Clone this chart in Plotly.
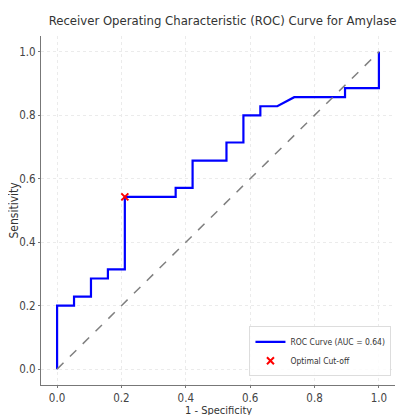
import plotly.graph_objects as go

fpr = [0, 0, 1/19, 1/19, 2/19, 2/19, 3/19, 3/19, 4/19, 4/19, 7/19, 7/19, 8/19, 8/19,
       10/19, 10/19, 11/19, 11/19, 12/19, 12/19, 13/19, 14/19, 17/19, 17/19, 1.0, 1.0]
tpr = [0, 7/35, 7/35, 8/35, 8/35, 10/35, 10/35, 11/35, 11/35, 19/35, 19/35, 20/35, 20/35, 23/35,
       23/35, 25/35, 25/35, 28/35, 28/35, 29/35, 29/35, 30/35, 30/35, 31/35, 31/35, 1.0]
diag_x = [0, 1]
diag_y = [0, 1]
cut_x = [4/19]
cut_y = [19/35]
auc = 0.64

FONT = "DejaVu Sans Condensed, Liberation Sans Narrow, Roboto Condensed, DejaVu Sans"

fig = go.Figure()
fig.add_trace(go.Scatter(x=fpr, y=tpr, mode="lines", line=dict(color="#0000ff", width=2.2),
                         name=f"ROC Curve (AUC = {auc:.2f})"))
fig.add_trace(go.Scatter(x=diag_x, y=diag_y, mode="lines", line=dict(color="#808080", width=1.5, dash="dash"),
                         showlegend=False))
fig.add_trace(go.Scatter(x=cut_x, y=cut_y, mode="markers",
                         marker=dict(symbol="x-thin", size=7, line=dict(color="#ff0000", width=2), color="#ff0000"),
                         name="Optimal Cut-off"))

axis_common = dict(showline=True, linecolor="#777777", linewidth=1.2, mirror=False,
                   ticks="outside", ticklen=2, tickcolor="#777777",
                   showgrid=True, gridcolor="#ebebeb", griddash="dot", gridwidth=1,
                   zeroline=False, tickfont=dict(size=11.5, color="#444444", family=FONT),
                   tickformat=".1f", dtick=0.2, automargin=False)

fig.update_layout(
    width=407, height=415,
    margin=dict(l=33, r=20, t=28, b=38),
    paper_bgcolor="white", plot_bgcolor="white",
    font=dict(family=FONT, color="#333333"),
    title=dict(text="Receiver Operating Characteristic (ROC) Curve for Amylase",
               xref="paper", x=0.513, xanchor="center", y=0.971, yanchor="middle",
               font=dict(size=13, color="#333333", family=FONT)),
    xaxis=dict(range=[-0.05, 1.05], **axis_common),
    yaxis=dict(range=[-0.05, 1.05], **axis_common),
    annotations=[
        dict(text="1 - Specificity", xref="paper", yref="paper", x=0.5, y=0,
             xanchor="center", yanchor="middle", yshift=-25, showarrow=False,
             font=dict(size=11, color="#333333", family=FONT)),
        dict(text="Sensitivity", xref="paper", yref="paper", x=0, y=0.5,
             xanchor="center", yanchor="middle", xshift=-28, textangle=-90, showarrow=False,
             font=dict(size=12, color="#333333", family=FONT)),
    ],
    legend=dict(x=0.99, y=0.025, xanchor="right", yanchor="bottom",
                bgcolor="rgba(255,255,255,0.85)", bordercolor="#dddddd", borderwidth=1,
                font=dict(size=8.5, color="#333333", family=FONT), tracegroupgap=0,
                itemwidth=30),
)

fig.write_html("out.html")
